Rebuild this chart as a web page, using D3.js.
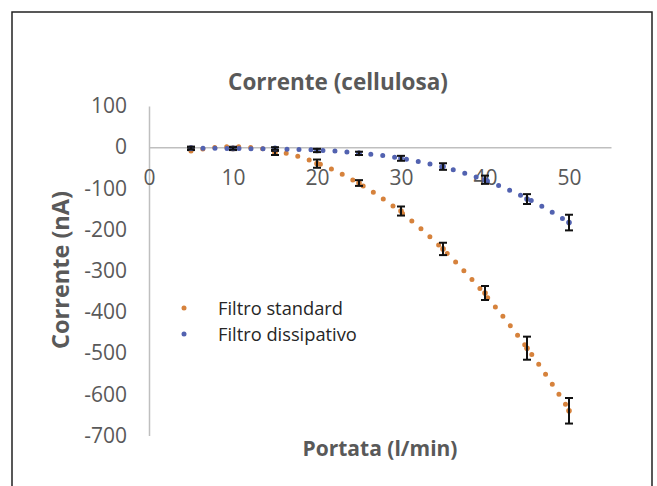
<!DOCTYPE html>
<html>
<head>
<meta charset="utf-8">
<script src="https://cdn.jsdelivr.net/npm/d3@7"></script>
<style>
  body { margin: 0; background: #fff; }
  text { font-family: "Open Sans", Lato, sans-serif; }
</style>
</head>
<body>
<svg id="chart"></svg>
<script>
const portata = [5, 10, 15, 20, 25, 30, 35, 40, 45, 50];
const standard = [-3, -3, -14, -40, -87, -155, -247, -354, -488, -640];
const standardErr = [4, 4, 5, 10, 7, 11, 15, 17, 28, 31];
const dissipativo = [-2, -3, -3, -8, -15, -27, -47, -79, -126, -183];
const dissipativoErr = [3, 3, 3, 4, 4, 6, 8, 10, 12, 19];

const xTicks = [0, 10, 20, 30, 40, 50];
const yTicks = [100, 0, -100, -200, -300, -400, -500, -600, -700];

const seriesNames = ["Filtro standard", "Filtro dissipativo"];
const colors = ["#d6823c", "#5262b0"];

const width = 657;
const height = 486;

const x = d3.scaleLinear().domain([0, 55]).range([149, 611]);
const y = d3.scaleLinear().domain([-700, 100]).range([435.5, 106]);

const svg = d3.select("#chart")
  .attr("width", width)
  .attr("height", height);

// outer frame (open at the bottom)
svg.append("path")
  .attr("d", `M12,${height + 2} V12 H652 V${height + 2}`)
  .attr("fill", "none")
  .attr("stroke", "#222")
  .attr("stroke-width", 1.5);

svg.append("text")
  .text("Corrente (cellulosa)")
  .attr("x", 338)
  .attr("y", 90)
  .attr("text-anchor", "middle")
  .attr("font-size", 22.5)
  .attr("font-weight", "bold")
  .attr("fill", "#595959");

// axes
const yAxis = svg.append("g")
  .attr("transform", `translate(${x(0)},0)`)
  .call(d3.axisLeft(y).tickValues(yTicks).tickFormat(d => String(d)).tickSize(0).tickPadding(22));
yAxis.select(".domain").attr("stroke", "#bfbfbf").attr("stroke-width", 1.5);
yAxis.selectAll("text").attr("font-size", 21).attr("fill", "#595959")
  .attr("font-family", "Lato, sans-serif");

const xAxis = svg.append("g")
  .attr("transform", `translate(0,${y(0)})`)
  .call(d3.axisBottom(x).tickValues(xTicks).tickSize(0).tickPadding(23));
xAxis.select(".domain").attr("stroke", "#bfbfbf").attr("stroke-width", 1.5);
xAxis.selectAll("text").attr("font-size", 21).attr("fill", "#595959")
  .attr("font-family", "Lato, sans-serif");

svg.append("text")
  .text("Corrente (nA)")
  .attr("transform", `translate(69,270) rotate(-90)`)
  .attr("text-anchor", "middle")
  .attr("font-size", 23.5)
  .attr("font-weight", "bold")
  .attr("fill", "#595959");

svg.append("text")
  .text("Portata (l/min)")
  .attr("x", 380)
  .attr("y", 456)
  .attr("text-anchor", "middle")
  .attr("font-size", 21)
  .attr("font-weight", "bold")
  .attr("fill", "#595959");

// least squares polynomial trendline (as Excel does)
function polyFit(xs, ys, order) {
  const n = order + 1;
  const A = [];
  for (let i = 0; i < n; i++) {
    A.push([]);
    for (let j = 0; j <= n; j++) A[i].push(0);
  }
  xs.forEach((xv, k) => {
    for (let i = 0; i < n; i++) {
      for (let j = 0; j < n; j++) A[i][j] += Math.pow(xv, i + j);
      A[i][n] += ys[k] * Math.pow(xv, i);
    }
  });
  for (let i = 0; i < n; i++) {
    let p = i;
    for (let r = i + 1; r < n; r++) if (Math.abs(A[r][i]) > Math.abs(A[p][i])) p = r;
    [A[i], A[p]] = [A[p], A[i]];
    for (let r = 0; r < n; r++) {
      if (r === i) continue;
      const f = A[r][i] / A[i][i];
      for (let c = i; c <= n; c++) A[r][c] -= f * A[i][c];
    }
  }
  const coef = A.map((row, i) => row[n] / row[i]);
  return (xv) => coef.reduce((s, c, i) => s + c * Math.pow(xv, i), 0);
}

const series = [
  {values: standard, errors: standardErr, color: colors[0], order: 2},
  {values: dissipativo, errors: dissipativoErr, color: colors[1], order: 3}
];

const line = d3.line().x(d => x(d[0])).y(d => y(d[1]));

series.forEach((s) => {
  const f = polyFit(portata, s.values, s.order);
  const pts = d3.range(5, 50.01, 0.25).map(v => [v, f(v)]);
  svg.append("path")
    .attr("d", line(pts))
    .attr("fill", "none")
    .attr("stroke", s.color)
    .attr("stroke-width", 5)
    .attr("stroke-linecap", "round")
    .attr("stroke-dasharray", "0 12");
});

series.forEach((s) => {
  const g = svg.append("g");
  g.selectAll("circle")
    .data(portata)
    .enter()
    .append("circle")
    .attr("cx", d => x(d))
    .attr("cy", (d, i) => y(s.values[i]))
    .attr("r", 2.8)
    .attr("fill", s.color);

  const eb = g.selectAll("g.err")
    .data(portata)
    .enter()
    .append("g")
    .attr("class", "err")
    .attr("stroke", "#111")
    .attr("stroke-width", 2);
  eb.append("line")
    .attr("x1", d => x(d)).attr("x2", d => x(d))
    .attr("y1", (d, i) => y(s.values[i] + s.errors[i]))
    .attr("y2", (d, i) => y(s.values[i] - s.errors[i]));
  eb.append("line")
    .attr("x1", d => x(d) - 4).attr("x2", d => x(d) + 4)
    .attr("y1", (d, i) => y(s.values[i] + s.errors[i]))
    .attr("y2", (d, i) => y(s.values[i] + s.errors[i]));
  eb.append("line")
    .attr("x1", d => x(d) - 4).attr("x2", d => x(d) + 4)
    .attr("y1", (d, i) => y(s.values[i] - s.errors[i]))
    .attr("y2", (d, i) => y(s.values[i] - s.errors[i]));
});

// legend
const legend = svg.append("g")
  .attr("transform", "translate(184,308)");

legend.selectAll("circle")
  .data(seriesNames)
  .enter()
  .append("circle")
  .attr("cx", 0)
  .attr("cy", (d, i) => i * 26)
  .attr("r", 2.5)
  .attr("fill", (d, i) => colors[i]);

legend.selectAll("text")
  .data(seriesNames)
  .enter()
  .append("text")
  .text(d => d)
  .attr("x", 34)
  .attr("y", (d, i) => i * 26 + 7)
  .attr("font-size", 18.3)
  .attr("fill", "#262626");
</script>
</body>
</html>
